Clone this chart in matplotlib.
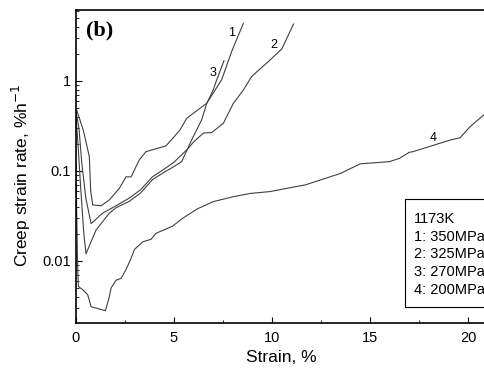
import matplotlib
matplotlib.use("Agg")
import matplotlib.pyplot as plt
from matplotlib.patches import Rectangle
from matplotlib.ticker import LogLocator, NullFormatter, MultipleLocator, FixedLocator

plt.rcParams['font.family'] = ['Liberation Sans', 'DejaVu Sans']

# curve 1: 350 MPa
x1 = [0, 0.37, 0.68, 0.75, 0.85, 1.28, 1.7, 2.21, 2.55, 2.81, 3.23, 3.57, 4.59,
      4.93, 5.3, 5.65, 5.98, 6.67, 7.43, 7.94, 8.54]
y1 = [0.5, 0.285, 0.144, 0.06, 0.042, 0.041, 0.0477, 0.064, 0.086, 0.086, 0.133,
      0.164, 0.19, 0.23, 0.285, 0.385, 0.437, 0.565, 1.03, 2.12, 4.38]

# curve 2: 325 MPa
x2 = [0, 0.15, 0.3, 0.5, 0.77, 1.36, 2.04, 2.72, 3.3, 3.9, 4.5, 5.0, 5.3, 5.68,
      6.0, 6.5, 6.92, 7.52, 8.03, 8.54, 8.96, 9.9, 10.5, 11.1]
y2 = [0.45, 0.3, 0.12, 0.05, 0.026, 0.034, 0.041, 0.05, 0.062, 0.086, 0.105, 0.125,
      0.145, 0.174, 0.21, 0.264, 0.267, 0.339, 0.565, 0.794, 1.12, 1.71, 2.27, 4.3]

# curve 3: 270 MPa
x3 = [0, 0.1, 0.25, 0.4, 0.51, 1.02, 1.7, 2.04, 2.72, 3.3, 3.9, 4.5, 5.0, 5.39,
      5.68, 5.98, 6.41, 6.67, 7.0, 7.18, 7.55]
y3 = [0.4, 0.2, 0.06, 0.02, 0.012, 0.022, 0.034, 0.039, 0.046, 0.057, 0.08, 0.097,
      0.112, 0.127, 0.174, 0.24, 0.369, 0.565, 0.794, 1.03, 1.68]

# curve 4: 200 MPa
x4 = [0, 0.04, 0.08, 0.12, 0.34, 0.6, 0.77, 1.02, 1.5, 1.7, 1.79, 2.04, 2.3, 2.55,
      2.81, 2.98, 3.4, 3.83, 4.08, 4.93, 5.44, 6.2, 7.0, 8.03, 8.9, 9.9, 10.9, 11.7,
      13.5, 14.5, 16.0, 16.5, 17.0, 17.2, 19.1, 19.6, 20.1, 20.9]
y4 = [0.12, 0.03, 0.009, 0.0052, 0.0048, 0.0042, 0.0031, 0.003, 0.0028, 0.004,
      0.005, 0.0061, 0.0064, 0.008, 0.0107, 0.0134, 0.0163, 0.0174, 0.0203, 0.0244,
      0.0298, 0.038, 0.0456, 0.0518, 0.0563, 0.059, 0.065, 0.07, 0.094, 0.12, 0.127,
      0.138, 0.161, 0.164, 0.221, 0.234, 0.31, 0.437]

legend_lines = ["1173K", "1: 350MPa", "2: 325MPa", "3: 270MPa", "4: 200MPa"]

fig = plt.figure(figsize=(4.85, 3.7), dpi=100)
ax = fig.add_axes([76 / 485, 47.5 / 370, 411.6 / 485, 312.5 / 370])

lc = '#404040'
for xs, ys in [(x1, y1), (x2, y2), (x3, y3), (x4, y4)]:
    ax.plot(xs, ys, color=lc, lw=0.8)

ax.set_yscale('log')
ax.set_xlim(0, 21)
ax.set_ylim(0.00207, 6.15)

ax.xaxis.set_major_locator(MultipleLocator(5))
ax.xaxis.set_minor_locator(MultipleLocator(2.5))
ax.yaxis.set_major_locator(FixedLocator([0.01, 0.1, 1]))
ax.yaxis.set_minor_locator(LogLocator(base=10, subs=range(2, 10)))
ax.yaxis.set_minor_formatter(NullFormatter())
ax.set_yticklabels(['0.01', '0.1', '1'])

ax.tick_params(which='both', direction='in', labelsize=10.5)
ax.tick_params(which='major', length=4, width=0.8)
ax.tick_params(which='minor', length=2.5, width=0.6)
ax.tick_params(axis='x', pad=6)
for s in ax.spines.values():
    s.set_linewidth(1.2)

ax.set_xlabel("Strain, %", fontsize=12.5, labelpad=4)
ax.set_ylabel("Creep strain rate, %h$^{-1}$", fontsize=12.5)
ax.yaxis.set_label_coords(-0.105, 0.47)

ax.text(0.024, 0.965, "(b)", transform=ax.transAxes, fontsize=16, fontweight='bold',
        family='Liberation Serif', va='top', ha='left')

# curve labels
ax.text(7.96, 3.4, "1", fontsize=9, ha='center', va='center')
ax.text(10.1, 2.5, "2", fontsize=9, ha='center', va='center')
ax.text(7.0, 1.22, "3", fontsize=9, ha='center', va='center')
ax.text(18.2, 0.235, "4", fontsize=9, ha='center', va='center')

# annotation box
fig.patches.append(Rectangle((405 / 485, 63 / 370), 0.3, 108 / 370, transform=fig.transFigure,
                             fill=False, edgecolor='black', lw=0.8))
for i, t in enumerate(legend_lines):
    fig.text(414 / 485, (370 - 219 - i * 17.75) / 370, t, fontsize=10.5, va='center', ha='left')

fig.savefig("out.png", dpi=100)
